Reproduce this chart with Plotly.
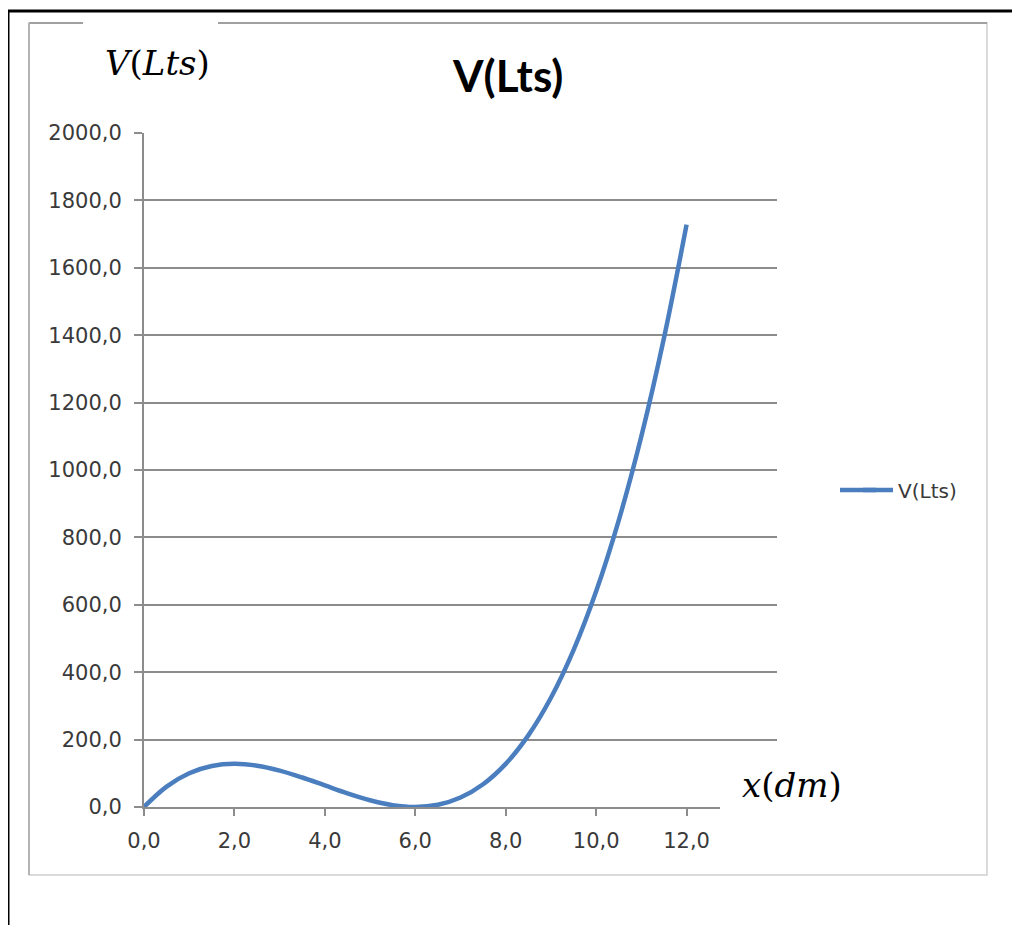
import plotly.graph_objects as go

# ---- data ----
x_dm = [0.0, 0.5, 1.0, 1.5, 2.0, 2.5, 3.0, 3.5, 4.0, 4.5, 5.0, 5.5, 6.0,
        6.5, 7.0, 7.5, 8.0, 8.5, 9.0, 9.5, 10.0, 10.5, 11.0, 11.5, 12.0]
v_lts = [0.0, 60.5, 100.0, 121.5, 128.0, 122.5, 108.0, 87.5, 64.0, 40.5, 20.0, 5.5, 0.0,
         6.5, 28.0, 67.5, 128.0, 212.5, 324.0, 465.5, 640.0, 850.5, 1100.0, 1391.5, 1728.0]
x_tick_vals = [0, 2, 4, 6, 8, 10, 12]
x_tick_text = ["0,0", "2,0", "4,0", "6,0", "8,0", "10,0", "12,0"]
y_tick_vals = [0, 200, 400, 600, 800, 1000, 1200, 1400, 1600, 1800, 2000]
y_tick_text = ["0,0", "200,0", "400,0", "600,0", "800,0", "1000,0", "1200,0",
               "1400,0", "1600,0", "1800,0", "2000,0"]
series_name = "V(Lts)"

OFF = 8  # page body margin
W, H = 1020, 925
L, R, T, B = 144, 777, 133, 807  # plot area in page pixels
LINE_COLOR = "#4a7ebf"


def px(p):
    return (p - L) / (R - L)


def py(p):
    return (B - p) / (B - T)


fig = go.Figure()
fig.add_trace(go.Scatter(
    x=x_dm, y=v_lts, mode="lines", name=series_name,
    line=dict(color=LINE_COLOR, width=4.5, shape="spline", smoothing=1.0),
))

tick_font = dict(family="DejaVu Sans", size=21, color="#3a3a3a")

fig.update_layout(
    width=W - OFF, height=H - OFF,
    margin=dict(l=L - OFF, r=W - R, t=T - OFF, b=H - B),
    paper_bgcolor="white", plot_bgcolor="white",
    showlegend=True,
    legend=dict(x=px(858), y=py(490), xanchor="left", yanchor="middle",
                font=dict(family="DejaVu Sans", size=20, color="#3a3a3a"),
                bgcolor="rgba(0,0,0,0)"),
    xaxis=dict(range=[0, 14], tickvals=x_tick_vals, ticktext=x_tick_text,
               showgrid=False, zeroline=False, showline=True,
               linecolor="#8c8c8c", linewidth=2,
               ticks="outside", ticklen=7, tickwidth=2, tickcolor="#8c8c8c",
               ticklabelstandoff=7,
               tickfont=tick_font),
    yaxis=dict(range=[0, 2000], tickvals=y_tick_vals, ticktext=y_tick_text,
               showgrid=True, gridcolor="#8c8c8c", gridwidth=2,
               zeroline=False, showline=True, linecolor="#8c8c8c", linewidth=2,
               ticks="outside", ticklen=8, tickwidth=2, tickcolor="#8c8c8c",
               ticklabelstandoff=8,
               tickfont=tick_font),
)

shapes = []
# outer black frame (top and left)
shapes.append(dict(type="line", xref="paper", yref="paper",
                   x0=px(8), x1=px(1020), y0=py(11), y1=py(11),
                   line=dict(color="black", width=3), layer="above"))
shapes.append(dict(type="line", xref="paper", yref="paper",
                   x0=px(8), x1=px(8), y0=py(11), y1=py(925),
                   line=dict(color="black", width=3), layer="above"))
# inner gray chart frame
shapes.append(dict(type="rect", xref="paper", yref="paper",
                   x0=px(29), x1=px(987), y0=py(875), y1=py(23),
                   line=dict(color="#cfcfcf", width=1.5), layer="above"))
shapes.append(dict(type="line", xref="paper", yref="paper",
                   x0=px(29), x1=px(987), y0=py(23), y1=py(23),
                   line=dict(color="#a0a0a0", width=2), layer="above"))
shapes.append(dict(type="line", xref="paper", yref="paper",
                   x0=px(29), x1=px(29), y0=py(23), y1=py(875),
                   line=dict(color="#b4b4b4", width=2), layer="above"))
# white patches behind the pasted labels
shapes.append(dict(type="rect", xref="paper", yref="paper",
                   x0=px(83), x1=px(218), y0=py(100), y1=py(15),
                   line=dict(width=0), fillcolor="white", layer="above"))
shapes.append(dict(type="rect", xref="paper", yref="paper",
                   x0=px(720), x1=px(860), y0=py(815), y1=py(752),
                   line=dict(width=0), fillcolor="white", layer="above"))
# longer legend key line (Excel style)
shapes.append(dict(type="line", xref="paper", yref="paper",
                   x0=px(840), x1=px(876), y0=py(490), y1=py(490),
                   line=dict(color=LINE_COLOR, width=4.5), layer="above"))
fig.update_layout(shapes=shapes)

annotations = [
    dict(text="<b>V(Lts)</b>", xref="paper", yref="paper",
         x=px(507), y=py(75), xanchor="center", yanchor="middle", showarrow=False,
         font=dict(family="Lato", size=44, color="black")),
    dict(text="<i>V</i>(<i>Lts</i>)", xref="paper", yref="paper",
         x=px(157), y=py(63), xanchor="center", yanchor="middle", showarrow=False,
         font=dict(family="DejaVu Serif", size=34, color="black")),
    dict(text="<i>x</i>(<i>dm</i>)", xref="paper", yref="paper",
         x=px(792), y=py(785), xanchor="center", yanchor="middle", showarrow=False,
         font=dict(family="DejaVu Serif", size=34, color="black")),
]
fig.update_layout(annotations=annotations)

fig.write_html("out.html")
